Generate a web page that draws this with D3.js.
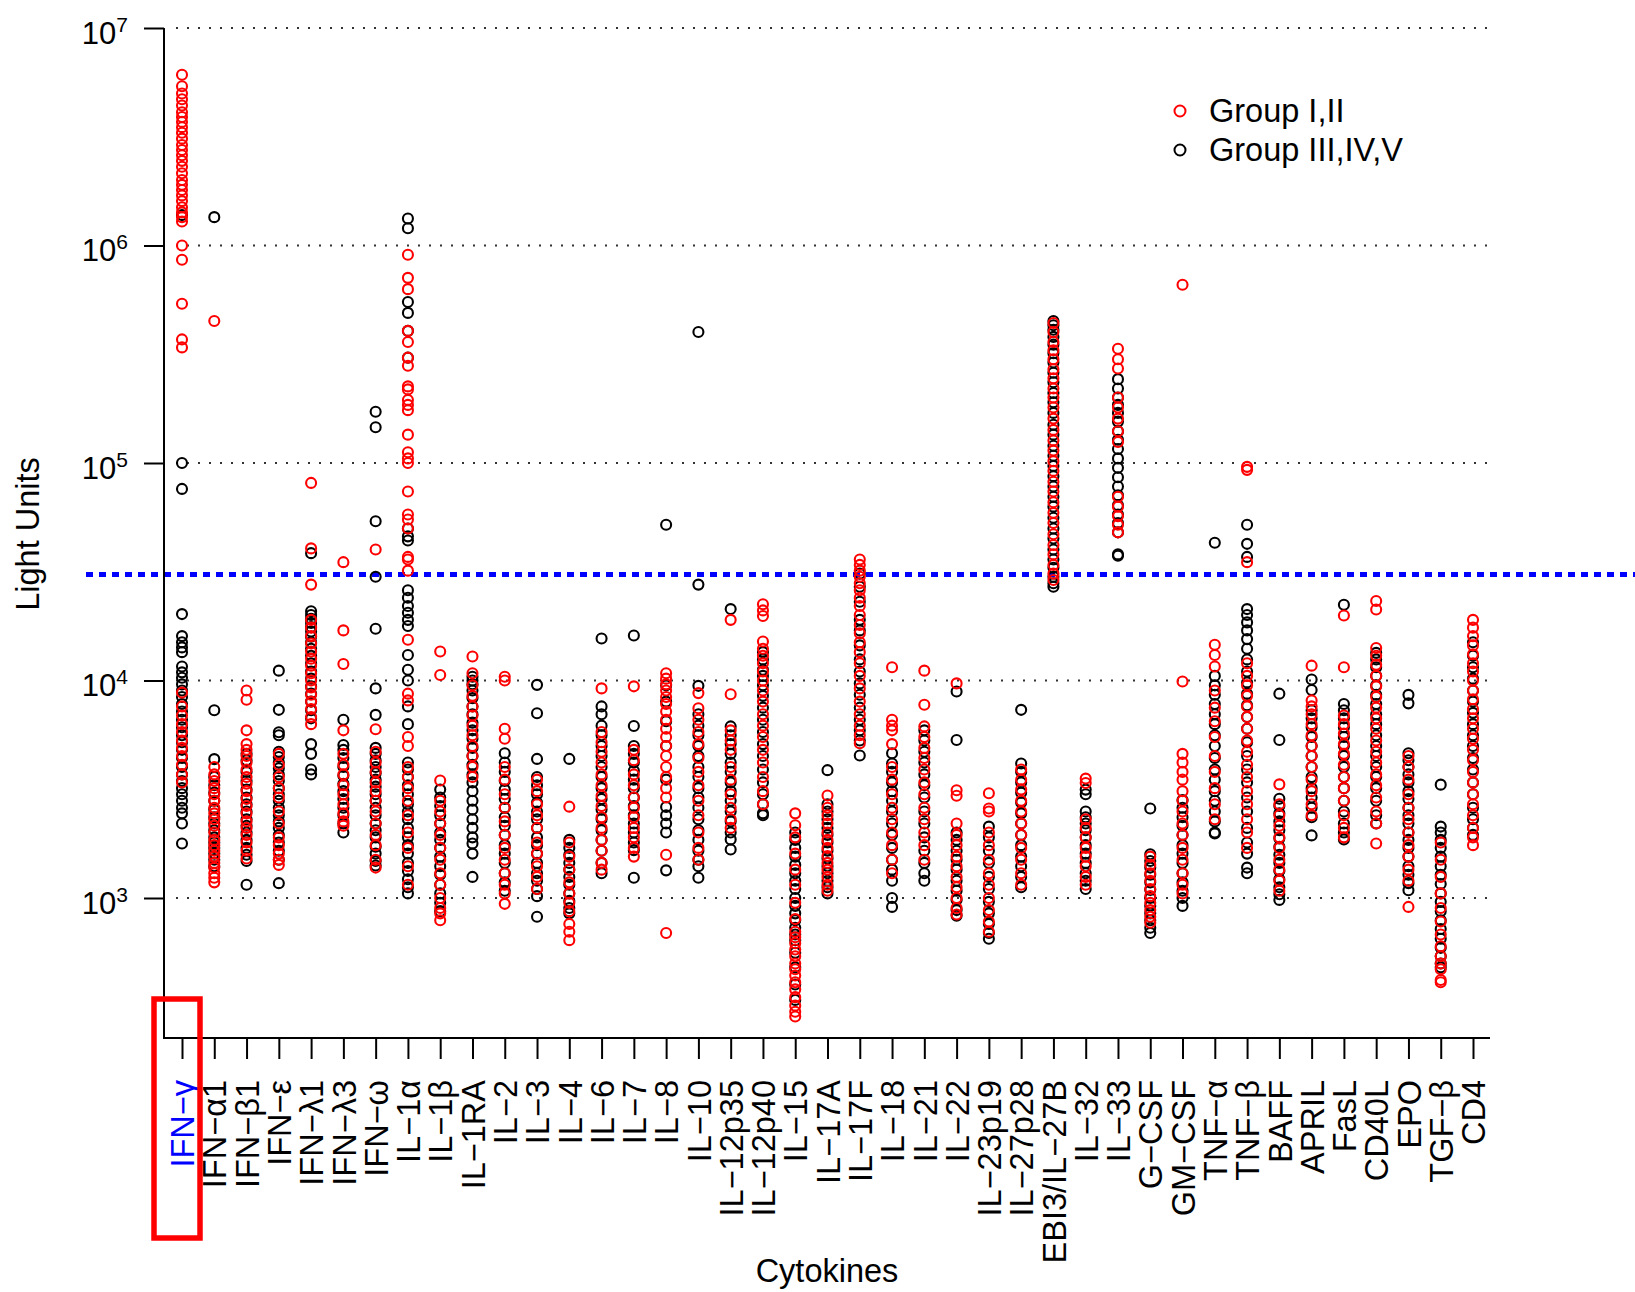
<!DOCTYPE html>
<html>
<head>
<meta charset="utf-8">
<script src="https://cdn.jsdelivr.net/npm/d3@7"></script>
<style>
  body { margin: 0; background: #fff; }
  #chart text { font-family: "Liberation Sans", Arial, Helvetica, sans-serif; fill: #000; }
</style>
</head>
<body>
<div id="chart"></div>
<script>
/** DATA */
const cytokines = ["IFN−γ","IFN−α1","IFN−β1","IFN−ε","IFN−λ1","IFN−λ3","IFN−ω","IL−1α","IL−1β","IL−1RA",
  "IL−2","IL−3","IL−4","IL−6","IL−7","IL−8","IL−10","IL−12p35","IL−12p40","IL−15","IL−17A","IL−17F",
  "IL−18","IL−21","IL−22","IL−23p19","IL−27p28","EBI3/IL−27B","IL−32","IL−33","G−CSF","GM−CSF",
  "TNF−α","TNF−β","BAFF","APRIL","FasL","CD40L","EPO","TGF−β","CD4"];
const highlighted = "IFN−γ";
const yTicks = [1e3, 1e4, 1e5, 1e6, 1e7];
const cutoff = 30700;
const groupNames = ["Group I,II", "Group III,IV,V"];

// Group I,II (red)
const groupI_II = [
  [6100000,5400000,5000000,4700000,4400000,4100000,3900000,3700000,3500000,3300000,3100000,2900000,2750000,2600000,2450000,2300000,2150000,2000000,1900000,1800000,1700000,1600000,1500000,1420000,1350000,1290000,1000000,860000,540000,370000,340000,8800,7600,6900,6300,5800,5300,4900,4500,4100,3700,3400],
  [450000,4000,3700,3450,3200,3000,2800,2600,2450,2300,2150,2000,1850,1750,1650,1550,1450,1380,1300,1240,1180],
  [9000,8150,5900,5100,4800,4500,4200,3900,3600,3350,3100,2850,2650,2450,2250,2100,1950,1800,1650,1520],
  [4600,4100,3600,3200,2900,2500,2200,1900,1750,1600,1500,1420],
  [81000,40500,27600,19000,17500,16000,14800,13600,12600,11700,10800,10000,9300,8600,8000,7400,6800,6300],
  [35000,17000,11900,5900,4600,4100,3700,3300,3000,2700,2450,2250,2150],
  [40000,5970,4700,4200,3800,3400,3100,2800,2500,2200,1950,1750,1500,1380],
  [906000,710000,630000,405000,360000,305000,280000,225000,218000,195000,185000,175000,135000,112000,105000,100000,74000,58000,55000,50000,37000,36000,32000,15400,8700,8100,5500,5000,4000,3600,3200,2800,2400,2000,1700,1400,1150],
  [13600,10600,3470,2800,2500,2200,1950,1700,1500,1300,1150,1000,900,850,790],
  [12900,10800,9500,8500,7600,6900,6200,5600,5000,4500,4000,3600],
  [10400,10000,6000,5400,4000,3500,3000,2600,2250,1950,1700,1500,1300,1150,1050,940],
  [3500,3100,2700,2400,2100,1800,1600,1400,1250,1100],
  [2630,1800,1550,1350,1180,1050,950,870,760,700,640],
  [9200,5800,5200,4700,4200,3700,3300,2950,2650,2350,2100,1850,1650,1450,1350],
  [9400,4800,4300,3700,3300,2900,2600,2350,2100,1900,1700,1550],
  [10800,10200,9600,9000,8400,7800,7200,6600,6000,5500,5000,4500,4000,3600,3200,2900,1580,690],
  [8750,7450,6600,5800,5100,4400,3800,3300,2800,2400,2000,1700,1500],
  [19000,8650,5900,5300,4800,4000,3500,3000,2600,2300,2100],
  [22400,21000,19800,15100,14000,13000,12000,11000,10000,9000,8000,7000,6200,5500,4800,4200,3600,3100,2700],
  [2450,2160,1900,1600,1350,1150,950,800,700,660,620,580,540,500,470,440,410,380,350,320,300,285],
  [2960,2600,2400,2200,2000,1850,1700,1560,1450,1350,1250,1150,1080],
  [36000,34000,32000,30000,28000,26000,24000,22000,20000,18000,16500,15000,13500,12000,10500,9200,8000,7000,6200,5600,5150],
  [11500,6600,6200,5900,5100,4000,3500,3000,2600,2300,2000,1750,1500,1300],
  [11100,7730,6150,5500,4900,4400,3900,3400,3000,2600,2300,2000,1750,1500],
  [9700,3130,2950,2200,1950,1750,1550,1400,1250,1120,1000,900,840],
  [3030,2580,2500,2000,1750,1500,1300,1150,1000,880,780,700],
  [3900,3500,3150,2800,2500,2200,1950,1700,1500,1300,1150],
  [440000,400000,360000,330000,300000,270000,245000,220000,200000,180000,160000,142000,127000,114000,102000,92000,82000,74000,66000,59000,53000,47000,42000,38000,34000,31000,29000],
  [3540,3380,2300,2100,1900,1700,1550,1400,1250,1150],
  [335000,300000,272000,200000,180000,160000,140000,125000,70000,63000,57000,52000,48000],
  [1550,1420,1300,1200,1100,1020,950,880,820,770],
  [660000,9900,4600,4200,3800,3500,3100,2800,2500,2200,1950,1700,1500,1300,1150,1050],
  [14600,13100,11600,9000,7500,6500,5500,4500,3800,3200,2700,2300],
  [96000,93000,35000,12000,10500,9500,8500,7600,6800,6000,5300,4700,4100,3600,3100,2700,2300,2000,1700],
  [3330,2700,2400,2150,1900,1700,1500,1350,1200,1080],
  [11700,8100,7600,7000,6300,5600,5000,4500,4000,3500,3100,2700,2400],
  [19900,11500,6900,6300,5700,5100,4600,4100,3600,3200,2800,2400,2100,1900],
  [23200,21200,14100,13000,11800,10500,9400,8400,7500,6700,6000,5300,4700,4200,3700,3300,2900,2500,2200,1780],
  [4500,4000,3500,3000,2600,2300,2000,1750,1550,1350,1200,910],
  [1800,1500,1250,1050,900,780,680,600,540,500,470,420,410],
  [19000,17500,16000,14500,13200,12000,11000,10000,9000,8200,7400,6700,6000,5400,4800,4300,3800,3400,3000,2700,2400,2100,1900,1750]
];

// Group III,IV,V (black)
const groupIII_IV_V = [
  [1380000,100000,76000,20200,16000,15000,14200,13500,11600,10900,10300,9600,9000,8400,7800,7200,6600,6100,5600,5200,4800,4400,4000,3700,3450,3200,3000,2800,2600,2450,2200,1780],
  [1350000,7300,4350,3600,3300,3050,2800,2550,2350,2200,2050,1900,1800,1700,1600,1500,1400],
  [4600,4300,3800,3450,3150,2900,2700,2500,2300,2150,2000,1850,1700,1580,1480,1150],
  [11100,7330,5780,5600,4700,4450,4200,3950,3700,3450,3200,3000,2800,2600,2400,2250,2100,1950,1800,1650,1500,1170],
  [38500,20800,20000,19200,18400,17600,16800,15900,15000,14000,13000,12000,11000,10200,9400,8700,8000,7300,6700,5100,4600,3900,3700],
  [6600,5050,4800,4400,4000,3650,3350,3100,2850,2600,2400,2200,2000],
  [172000,146000,54000,30000,17300,9200,6950,4900,4600,4300,4000,3750,3500,3250,3000,2800,2600,2400,2200,2050,1900,1720,1600,1480,1410],
  [1330000,1200000,550000,490000,405000,305000,50000,46000,44000,26000,24000,22000,20500,19000,17800,13100,11200,10000,7600,6300,4200,3900,3600,3300,3000,2700,2500,2300,2100,1900,1750,1600,1450,1330,1220,1120,1050],
  [3150,2900,2650,2400,2200,2000,1850,1700,1550,1400,1280,1150,1050,950,870],
  [10400,10000,9600,9000,8300,7600,7000,6400,5900,5400,4900,4500,4100,3700,3400,3100,2800,2550,2300,2100,1900,1780,1600,1250],
  [4630,4200,3800,3450,3150,2850,2600,2350,2150,1950,1750,1600,1450,1300,1180,1080],
  [9550,7070,4360,3600,3300,3000,2750,2500,2300,2100,1900,1750,1600,1450,1300,1200,1100,1020,820],
  [4360,1850,1700,1580,1450,1350,1250,1150,1050,970,900,850],
  [15600,7600,7000,6200,5600,5000,4500,4000,3600,3200,2850,2550,2300,2050,1850,1650,1450,1300],
  [16100,6180,5000,4600,4200,3850,3500,3200,2900,2650,2400,2200,2000,1800,1660,1240],
  [52000,9500,8000,6500,5000,3500,2620,2400,2200,2000,1340],
  [400000,27600,9450,7000,6200,5600,5000,4500,4000,3600,3200,2900,2600,2300,2050,1850,1650,1500,1400,1240],
  [21300,6150,5600,5100,4600,4200,3800,3400,3100,2800,2500,2250,2000,1860,1670],
  [13500,12500,11200,10500,9500,8500,7500,6600,5800,5100,4500,3900,3400,3000,2700,2450,2400],
  [2000,1850,1700,1550,1420,1300,1200,1100,1000,920,850,790,730,680,640,560,480,400,340],
  [3870,2700,2500,2300,2100,1950,1800,1650,1520,1400,1300,1200,1120,1050],
  [31000,27000,23000,19000,17000,14500,12500,11000,9700,8600,7500,6600,5900,5300,4520],
  [4630,4150,3800,3400,3100,2800,2500,2200,1950,1700,1500,1350,1200,1000,910],
  [5900,5300,4700,4200,3700,3300,2900,2500,2200,1900,1650,1450,1300,1200],
  [8900,5330,2000,1850,1650,1500,1350,1200,1080,980,880,830],
  [2130,1900,1650,1450,1250,1100,960,850,760,690,650],
  [7330,4150,3800,3400,3050,2750,2450,2200,1950,1750,1550,1400,1250,1120],
  [450000,430000,410000,380000,350000,320000,290000,260000,235000,210000,190000,170000,150000,135000,120000,108000,97000,87000,78000,70000,63000,56000,50000,45000,40000,36000,33000,30000,28000,27000],
  [3150,3000,2500,2350,2200,2050,1900,1750,1600,1450,1300,1200,1100],
  [243000,220000,200000,185000,170000,155000,140000,128000,116000,105000,95000,86000,78000,71000,64000,58000,53000,48000,38000,37500],
  [2580,1590,1480,1380,1280,1180,1090,1000,920,850,790,730,690],
  [2820,2600,2350,2150,1950,1750,1600,1450,1300,1180,1080,1000,920],
  [43000,10500,9500,8600,7800,7000,6300,5600,5000,4400,3900,3500,3100,2800,2500,2250,2000,1980],
  [52000,42500,37000,21300,20000,18500,17000,15500,14000,12500,11000,9800,8700,7700,6800,6000,5200,4500,3900,3400,2900,2500,2100,1800,1600,1380,1300],
  [8700,5330,2860,2650,2450,2250,2050,1880,1720,1580,1450,1330,1220,1120,1040,980],
  [10100,9050,7300,6700,6100,5500,5000,4500,4000,3600,3200,2900,2600,2350,1940],
  [22300,7800,7300,6700,6100,5500,5000,4500,4000,3600,3200,2800,2500,2200,2000,1860],
  [13400,12500,11500,10500,9500,8600,7800,7000,6300,5600,5000,4500,4000,3600,3200,2800,2400,2200],
  [8590,7850,4630,4300,4000,3700,3400,3100,2850,2600,2400,2200,2000,1850,1700,1550,1400,1280,1170,1085],
  [3320,2130,2000,1850,1700,1550,1400,1280,1160,1050,960,870,790,720,650,590,540,500,480],
  [15000,13000,11500,10200,9000,8000,7100,6300,5600,5000,4400,3900,3400,3000,2600,2300,2100,1950]
];

/** SIZING */
let width = 1635, height = 1292;
let axisX = 164, axisBottom = 1038, axisTop = 28, axisRight = 1490;
let fontFamily = '"Liberation Sans", Arial, Helvetica, sans-serif';
let labelSize = "32.5px";
let colors = ["#ff0000", "#000000"];

/** SVG */
let svg = d3.select("#chart")
  .append("svg")
  .attr("width", width)
  .attr("height", height)
  .style("background", "#fff");

/** SCALES */
let x = d3.scalePoint().domain(cytokines).range([182, 1473]);
let y = d3.scaleLog().domain([1e3, 1e7]).range([898, 28]);

/** GRID */
svg.append("g")
  .selectAll("line")
  .data(yTicks).enter()
  .append("line")
  .attr("x1", 176).attr("x2", axisRight)
  .attr("y1", d => y(d)).attr("y2", d => y(d))
  .style("stroke", "#333")
  .style("stroke-width", 2)
  .style("stroke-dasharray", "2,9");

/** CUTOFF LINE */
svg.append("line")
  .attr("x1", 86).attr("x2", width)
  .attr("y1", y(cutoff)).attr("y2", y(cutoff))
  .style("stroke", "#0000ff")
  .style("stroke-width", 5)
  .style("stroke-dasharray", "7,6");

/** POINTS (black group first, red on top) */
let points = [];
[groupIII_IV_V, groupI_II].forEach((group, gi) => {
  let color = gi === 0 ? colors[1] : colors[0];
  group.forEach((vals, i) => {
    vals.forEach(v => points.push({cyto: cytokines[i], v: v, color: color}));
  });
});
svg.append("g")
  .selectAll("circle")
  .data(points).enter()
  .append("circle")
  .attr("cx", d => x(d.cyto))
  .attr("cy", d => y(d.v))
  .attr("r", 5)
  .style("fill", "none")
  .style("stroke", d => d.color)
  .style("stroke-width", 2.1);

/** AXES (L-shaped box) */
svg.append("path")
  .attr("d", `M${axisX},${axisTop}V${axisBottom}H${axisRight}`)
  .style("fill", "none")
  .style("stroke", "#000")
  .style("stroke-width", 2);

let yAxis = svg.append("g")
  .attr("transform", `translate(${axisX},0)`)
  .call(d3.axisLeft(y).tickValues(yTicks).tickSize(20).tickFormat(""));
yAxis.select(".domain").remove();
yAxis.selectAll(".tick line").style("stroke", "#000").style("stroke-width", 2);
yAxis.selectAll(".tick").each(function(d){
  let t = d3.select(this).append("text")
    .attr("x", -36)
    .attr("y", 15)
    .attr("text-anchor", "end")
    .style("font-size", "31px")
    .style("font-family", fontFamily)
    .style("fill", "#000");
  t.append("tspan").text("10");
  t.append("tspan").attr("dy", -12).style("font-size", "21px").text(Math.round(Math.log10(d)));
});

let xAxis = svg.append("g")
  .attr("transform", `translate(0,${axisBottom})`)
  .call(d3.axisBottom(x).tickSize(21).tickSizeOuter(0));
xAxis.select(".domain").remove();
xAxis.selectAll(".tick line").style("stroke", "#000").style("stroke-width", 2);
xAxis.selectAll(".tick text")
  .attr("y", 0)
  .attr("dy", "0.36em")
  .attr("transform", "translate(0,42) rotate(-90)")
  .attr("text-anchor", "end")
  .style("font-size", labelSize)
  .style("font-family", fontFamily)
  .style("fill", d => d === highlighted ? "#0000ff" : "#000");

/** HIGHLIGHT BOX */
svg.append("rect")
  .attr("x", 154).attr("y", 999)
  .attr("width", 46).attr("height", 239)
  .style("fill", "none")
  .style("stroke", "#ff0000")
  .style("stroke-width", 5.5);

/** AXIS TITLES */
svg.append("text")
  .text("Cytokines")
  .attr("x", 827).attr("y", 1282)
  .attr("text-anchor", "middle")
  .style("font-size", labelSize);
svg.append("text")
  .text("Light Units")
  .attr("transform", "translate(39,534) rotate(-90)")
  .attr("text-anchor", "middle")
  .style("font-size", labelSize);

/** LEGEND */
let legend = svg.append("g").attr("id", "legend");
groupNames.forEach((name, index) => {
  legend.append("circle")
    .attr("cx", 1180)
    .attr("cy", 111 + index * 39)
    .attr("r", 5.5)
    .style("fill", "none")
    .style("stroke", colors[index])
    .style("stroke-width", 2);
  legend.append("text")
    .text(name)
    .attr("x", 1209)
    .attr("y", 122 + index * 39)
    .style("font-size", labelSize);
});
</script>
</body>
</html>
